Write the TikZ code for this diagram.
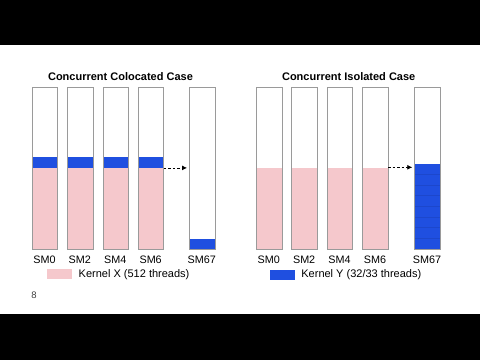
\documentclass[tikz,border=0pt]{standalone}
\usepackage{fontspec}
\setmainfont{Liberation Sans}
\usetikzlibrary{positioning,arrows.meta}
\definecolor{kblue}{HTML}{1F4FE0}
\definecolor{kline}{HTML}{1C47CC}
\definecolor{kpink}{HTML}{F5C8CC}
\definecolor{smgray}{HTML}{9A9A9A}

\begin{document}
\begin{tikzpicture}[x=1pt,y=-1pt,
    sm/.style={draw=smgray, line width=0.8pt, minimum width=25.5pt, minimum height=162pt, inner sep=0pt, anchor=north west},
    pinkbar/.style={fill=kpink, minimum width=25.5pt, minimum height=81pt, inner sep=0pt, anchor=north west},
    blueband/.style={fill=kblue, minimum width=25.5pt, inner sep=0pt, anchor=north west},
    smlabel/.style={font=\fontsize{10.8}{12}\selectfont, inner sep=0pt},
    casetitle/.style={font=\fontsize{11}{13}\selectfont\bfseries, inner sep=0pt},
    keybox/.style={minimum width=25pt, minimum height=10pt, inner sep=0pt},
    keytext/.style={font=\fontsize{11}{13}\selectfont, inner sep=0pt},
    migrate/.style={dash pattern=on 2.5pt off 2pt, line width=0.8pt, -{Latex[length=5pt,width=5pt]}, shorten >=2pt}]
    % frame of the slide
    \fill[white] (0,0) rectangle (480,360);
    \fill[black] (0,0) rectangle (480,45);
    \fill[black] (0,314) rectangle (480,360);

    % Colocated
    \node[casetitle] (tcol) at (120.5,76.5) {Concurrent Colocated Case};
    \foreach \i/\n in {0/SM0,1/SM2,2/SM4,3/SM6}{
        \pgfmathsetmacro\xl{31.7+35.4*\i}
        \node[pinkbar] (pa\i) at (\xl,167.5) {};
        \node[blueband, minimum height=10.4pt] (ba\i) at (\xl,157.1) {};
        \node[sm] (a\i) at (\xl,86.5) {};
        \node[smlabel] (la\i) at (\xl+12.75,259.3) {\n};
    }
    \node[blueband, minimum height=9.3pt] (ba67) at (189,239.2) {};
    \node[sm] (a67) at (189,86.5) {};
    \node[smlabel] (la67) at (201.75,259.3) {SM67};
    \draw[migrate] (ba3.south east) -- (ba3.south east -| a67.west);
    \node[keybox, fill=kpink] (keyx) at (59.8,274.3) {};
    \node[keytext, right=6pt of keyx] (kxtext) {Kernel X (512 threads)};

    % Isolated
    \node[casetitle] (tiso) at (348.7,76.5) {Concurrent Isolated Case};
    \foreach \i/\n in {0/SM0,1/SM2,2/SM4,3/SM6}{
        \pgfmathsetmacro\xl{256+35.4*\i}
        \node[pinkbar] (pb\i) at (\xl,167.3) {};
        \node[sm] (b\i) at (\xl,86.5) {};
        \node[smlabel] (lb\i) at (\xl+12.75,259.3) {\n};
    }
    \node[blueband, minimum height=84.5pt] (bb67) at (414.3,164) {};
    \foreach \k in {1,...,7}
        \draw[kline, line width=0.4pt] (414.3,164+10.55*\k) -- ++(25.5,0);
    \node[sm] (b67) at (414.3,86.5) {};
    \node[smlabel] (lb67) at (427.05,259.3) {SM67};
    \draw[migrate] (pb3.north east) -- (pb3.north east -| b67.west);
    \node[keybox, fill=kblue] (keyy) at (282.5,274.6) {};
    \node[keytext, right=6pt of keyy] (kytext) {Kernel Y (32/33 threads)};

    % slide number
    \node[font=\fontsize{9.5}{11}\selectfont, text=black!75, inner sep=0pt] (pagenum) at (34,295.7) {8};
\end{tikzpicture}
\end{document}
